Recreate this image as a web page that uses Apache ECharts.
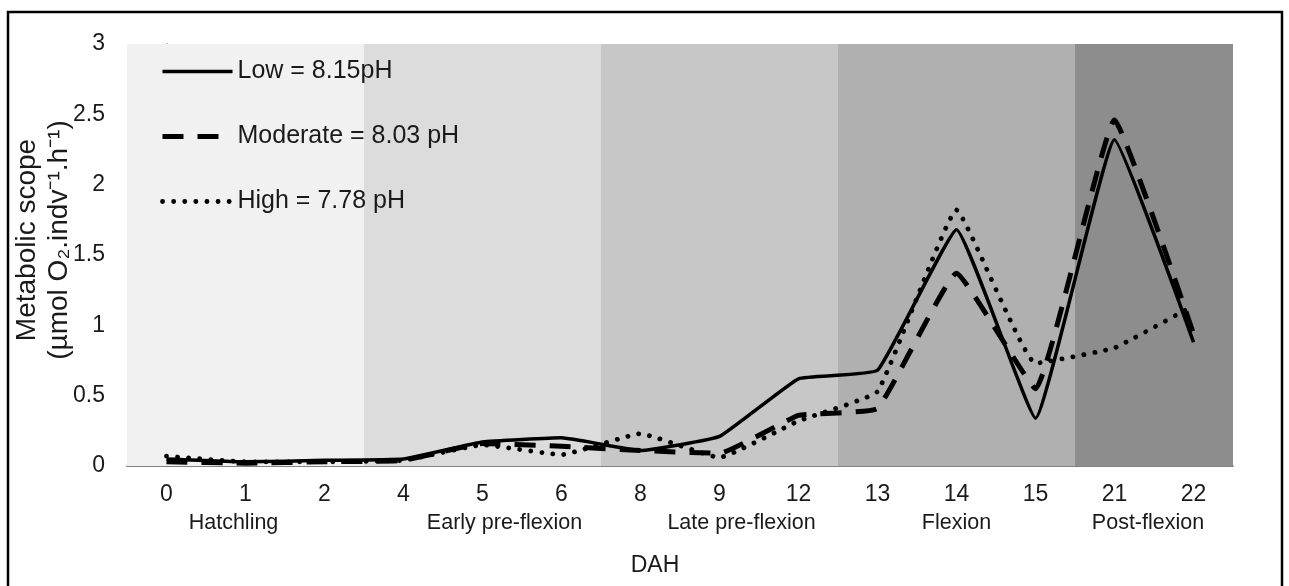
<!DOCTYPE html>
<html lang="en">
<head>
    <meta charset="UTF-8">
    <title>Metabolic scope by DAH</title>
    <script src="https://cdn.jsdelivr.net/npm/echarts@6/dist/echarts.min.js"></script>
    <style>
        html, body { margin: 0; padding: 0; background: #fff; }
        #main { width: 1289px; height: 586px; }
    </style>
</head>
<body>
    <div id="main"></div>
    <script type="text/javascript">
        // days after hatching (category axis)
        var days = ['0', '1', '2', '4', '5', '6', '8', '9', '12', '13', '14', '15', '21', '22'];

        // metabolic scope per treatment
        var low      = [0.05, 0.03, 0.04, 0.05, 0.17, 0.20, 0.11, 0.21, 0.62, 0.68, 1.68, 0.34, 2.32, 0.88];
        var moderate = [0.03, 0.02, 0.03, 0.04, 0.16, 0.14, 0.11, 0.09, 0.36, 0.41, 1.37, 0.55, 2.46, 0.94];
        var high     = [0.07, 0.03, 0.03, 0.04, 0.15, 0.08, 0.23, 0.06, 0.32, 0.53, 1.82, 0.73, 0.84, 1.14];

        var seriesNames = ['Low = 8.15pH', 'Moderate = 8.03 pH', 'High = 7.78 pH'];

        // developmental stages, by index range in days
        var stageNames = ['Hatchling', 'Early pre-flexion', 'Late pre-flexion', 'Flexion', 'Post-flexion'];
        var stageFrom  = [0, 3, 6, 9, 12];
        var stageTo    = [2, 5, 8, 11, 13];

        var stageColors = ['#f1f1f1', '#dcdcdc', '#c7c7c7', '#b0b0b0', '#8d8d8d'];
        // small nudges so the stage names sit where the original put them
        var stageLabelShift = [-12, 22, 22, 0, -6];

        var font = 'Liberation Sans, Arial, sans-serif';
        var ink = '#1a1a1a';

        var myChart = echarts.init(document.getElementById('main'));

        var bands = [];
        for (var i = 0; i < stageNames.length; i++) {
            bands.push([
                { xAxis: stageFrom[i] - 0.5, itemStyle: { color: stageColors[i] } },
                { xAxis: stageTo[i] + 0.5 }
            ]);
        }

        var option = {
            animation: false,
            backgroundColor: '#fff',
            grid: { left: 127, right: 56, top: 44, bottom: 120, outerBoundsMode: 'none' },
            legend: {
                orient: 'vertical',
                left: 155,
                top: 54,
                itemWidth: 70,
                itemHeight: 14,
                itemGap: 40,
                data: seriesNames,
                textStyle: { fontFamily: font, fontSize: 25, color: ink, lineHeight: 25 },
                lineStyle: { width: 'inherit' },
                itemStyle: { opacity: 0 }
            },
            xAxis: [
                {
                    type: 'category',
                    data: days,
                    name: 'DAH',
                    nameLocation: 'middle',
                    nameGap: 88,
                    nameTextStyle: { fontFamily: font, fontSize: 23, color: ink, padding: [0, 50, 0, 0] },
                    axisLine: { lineStyle: { color: '#5a5a5a', width: 1.5 } },
                    axisTick: { show: false },
                    axisLabel: { fontFamily: font, fontSize: 23, color: ink, margin: 17 },
                    splitLine: { show: false }
                },
                {
                    // hidden helper axis so stage bands run between categories
                    type: 'value',
                    min: -0.5,
                    max: 13.5,
                    show: false
                }
            ],
            yAxis: {
                type: 'value',
                min: 0,
                max: 3,
                interval: 0.5,
                name: 'Metabolic scope\n(µmol O₂.indv⁻¹.h⁻¹)',
                nameLocation: 'middle',
                nameGap: 52,
                nameRotate: 90,
                nameMoveOverlap: false,
                nameTextStyle: { fontFamily: font, fontSize: 28, color: ink, lineHeight: 32, padding: [0, 0, 0, 30] },
                axisLine: { show: true, lineStyle: { color: '#5a5a5a', width: 1.5 } },
                axisTick: { show: false },
                axisLabel: { fontFamily: font, fontSize: 23, color: ink, margin: 22 },
                splitLine: { show: false }
            },
            series: [
                {
                    name: 'stages',
                    type: 'line',
                    xAxisIndex: 1,
                    data: [],
                    symbol: 'none',
                    silent: true,
                    z: 1,
                    markArea: { silent: true, label: { show: false }, data: bands }
                },
                {
                    name: seriesNames[0],
                    type: 'line',
                    data: low,
                    symbol: 'none',
                    smooth: 0.1,
                    z: 5,
                    lineStyle: { color: '#000', width: 3.5, type: 'solid' },
                    itemStyle: { color: '#000' }
                },
                {
                    name: seriesNames[1],
                    type: 'line',
                    data: moderate,
                    symbol: 'none',
                    smooth: 0.1,
                    z: 4,
                    lineStyle: { color: '#000', width: 5, type: [21, 14] },
                    itemStyle: { color: '#000' }
                },
                {
                    name: seriesNames[2],
                    type: 'line',
                    data: high,
                    symbol: 'none',
                    smooth: 0.1,
                    z: 3,
                    lineStyle: { color: '#000', width: 4.8, type: [0.1, 11], cap: 'round' },
                    itemStyle: { color: '#000' }
                }
            ]
        };

        myChart.setOption(option);

        // stage names under the day labels, centred on each stage
        var graphics = [{
            type: 'rect',
            shape: { x: 8, y: 12, width: 1274, height: 600 },
            style: { fill: null, stroke: '#000', lineWidth: 2.5 },
            silent: true,
            z: 100
        }];
        for (var j = 0; j < stageNames.length; j++) {
            var mid = (stageFrom[j] + stageTo[j]) / 2;
            var px = myChart.convertToPixel({ xAxisIndex: 1 }, mid);
            graphics.push({
                type: 'text',
                x: px + stageLabelShift[j],
                y: 523,
                style: {
                    text: stageNames[j],
                    font: '21.5px ' + font,
                    fill: ink,
                    align: 'center',
                    verticalAlign: 'middle'
                },
                silent: true
            });
        }
        myChart.setOption({ graphic: graphics });
    </script>
</body>
</html>
